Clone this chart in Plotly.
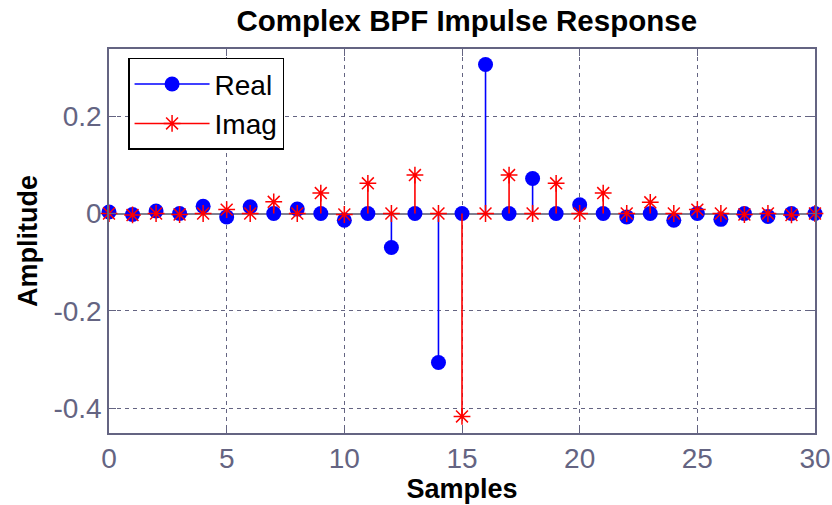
import plotly.graph_objects as go

samples = list(range(31))
real_vals = [0.003, -0.002, 0.005, 0.0, 0.015, -0.007, 0.014, 0.0, 0.009, 0.0,
             -0.014, 0.0, -0.070, 0.0, -0.306, 0.0, 0.306, 0.0, 0.072, 0.0,
             0.018, 0.0, -0.007, 0.0, -0.014, 0.0, -0.012, 0.0, -0.006, 0.0, 0.0]
imag_vals = [0.0, -0.003, 0.0, -0.002, 0.0, 0.008, 0.0, 0.024, 0.0, 0.042,
             -0.002, 0.062, 0.0, 0.079, 0.0, -0.417, 0.0, 0.079, 0.0, 0.062,
             0.0, 0.042, 0.0, 0.023, 0.0, 0.008, 0.0, -0.002, 0.0, -0.003, 0.0]

x_tick_vals = [0, 5, 10, 15, 20, 25, 30]
y_tick_vals = [-0.4, -0.2, 0, 0.2]
y_tick_text = ["-0.4", "-0.2", "0", "0.2"]

title_text = "Complex BPF Impulse Response"
x_title = "Samples"
y_title = "Amplitude"

BLUE = "rgb(0,0,255)"
RED = "rgb(255,0,0)"
AXC = "rgb(100,100,130)"
FONT = "Liberation Sans, Arial, sans-serif"


def stems(xs, ys):
    sx, sy = [], []
    for x, y in zip(xs, ys):
        sx += [x, x, None]
        sy += [0, y, None]
    return sx, sy


fig = go.Figure()

rx, ry = stems(samples, real_vals)
ix, iy = stems(samples, imag_vals)

fig.add_trace(go.Scatter(x=rx, y=ry, mode="lines", line=dict(color=BLUE, width=1.6),
                         showlegend=False, hoverinfo="skip"))
fig.add_trace(go.Scatter(x=samples, y=real_vals, mode="markers",
                         marker=dict(symbol="circle", size=15, color=BLUE),
                         showlegend=False, cliponaxis=False))
fig.add_trace(go.Scatter(x=ix, y=iy, mode="lines", line=dict(color=RED, width=1.6),
                         showlegend=False, hoverinfo="skip"))
fig.add_trace(go.Scatter(x=samples, y=imag_vals, mode="markers",
                         marker=dict(symbol="asterisk-open", size=14,
                                     line=dict(color=RED, width=1.5), color=RED),
                         showlegend=False, cliponaxis=False))

# legend entries
fig.add_trace(go.Scatter(x=[None], y=[None], mode="lines+markers", name="Real",
                         line=dict(color=BLUE, width=1.5),
                         marker=dict(symbol="circle", size=15, color=BLUE)))
fig.add_trace(go.Scatter(x=[None], y=[None], mode="lines+markers", name="Imag",
                         line=dict(color=RED, width=1.5),
                         marker=dict(symbol="asterisk-open", size=14,
                                     line=dict(color=RED, width=1.5), color=RED)))

fig.update_layout(
    width=832, height=505,
    margin=dict(l=109, r=17, t=49, b=72),
    paper_bgcolor="white", plot_bgcolor="white",
    font=dict(family=FONT, size=28, color=AXC),
    title=dict(text="<b>" + title_text + "</b>", x=0.561, xanchor="center",
               y=0.96, yanchor="middle",
               font=dict(family=FONT, size=29.5, color="black")),
    showlegend=True,
    legend=dict(x=0.027, y=0.977, xanchor="left", yanchor="top",
                bgcolor="white", bordercolor="black", borderwidth=1.5,
                font=dict(family=FONT, size=28, color="black"),
                itemwidth=75, tracegroupgap=0),
    xaxis=dict(range=[0, 30], tickvals=x_tick_vals, ticks="inside", ticklen=7,
               tickcolor=AXC, showline=True, linecolor=AXC, linewidth=1.5, mirror="ticks",
               showgrid=True, gridcolor=AXC, gridwidth=1, griddash="4px,4px",
               zeroline=False, automargin=False,
               tickfont=dict(size=28, color=AXC), ticklabelstandoff=0,
               title=dict(text="<b>" + x_title + "</b>", standoff=4,
                          font=dict(size=27, color="black"))),
    yaxis=dict(range=[-0.451, 0.338], tickvals=y_tick_vals, ticktext=y_tick_text,
               ticks="inside", ticklen=7,
               tickcolor=AXC, showline=True, linecolor=AXC, linewidth=1.5, mirror="ticks",
               showgrid=True, gridcolor=AXC, gridwidth=1, griddash="4px,4px",
               zeroline=True, zerolinecolor="rgb(128,128,145)", zerolinewidth=2,
               automargin=False,
               tickfont=dict(size=28, color=AXC), ticklabelstandoff=0,
               title=dict(text="<b>" + y_title + "</b>", standoff=8,
                          font=dict(size=27, color="black"))),
)

fig.write_html("out.html", config={"displayModeBar": False},
               post_script="document.body.style.margin='0px';document.body.style.overflow='hidden';")
